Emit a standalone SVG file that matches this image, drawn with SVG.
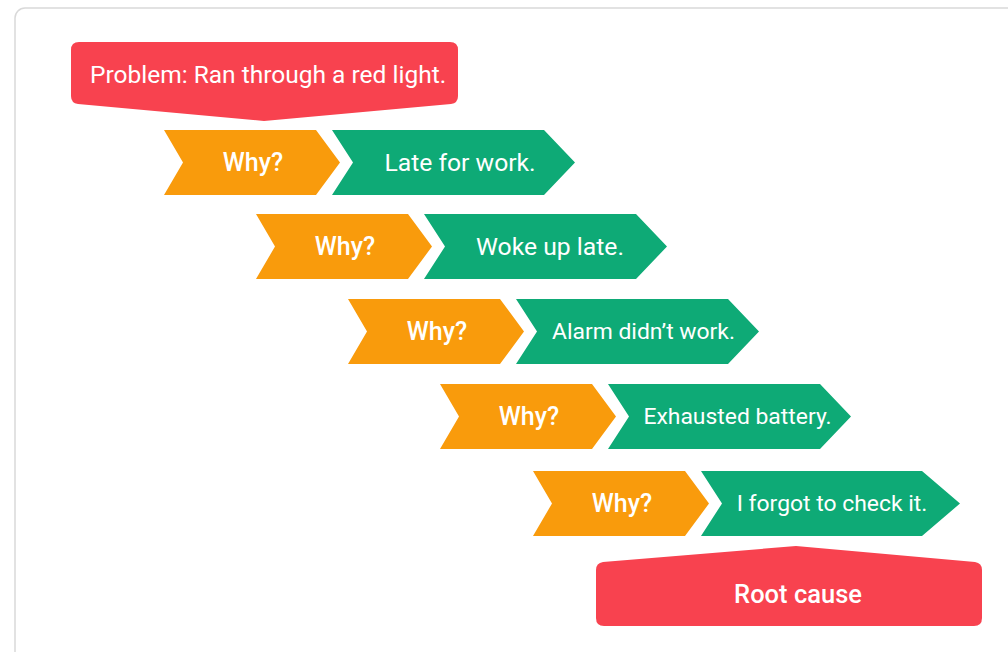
<svg xmlns="http://www.w3.org/2000/svg" width="1008" height="652" viewBox="0 0 1008 652">
<style>
.red{fill:#f8424f}
.org{fill:#f99b0c}
.grn{fill:#0eaa76}
text{font-family:Roboto,"Liberation Sans",sans-serif;fill:#ffffff}
.why{font-size:25px;font-weight:500;text-anchor:middle}
.ans{font-size:24.7px;font-weight:400;text-anchor:middle}
.ans2{font-size:22.9px;font-weight:400;text-anchor:middle}
</style>
<rect x="0" y="0" width="1008" height="652" fill="#ffffff"/>
<rect x="15" y="8" width="1020" height="680" rx="10" fill="#ffffff" stroke="#d9d9d9" stroke-width="1.5"/>
<g id="problem">
<path class="red" d="M79,42 H450 Q458,42 458,50 V96 Q458,103 451,104 L264,121 L78,104 Q71,103 71,96 V50 Q71,42 79,42 Z"/>
<text x="90" y="83" style="font-size:24.5px">Problem: Ran through a red light.</text>
</g>
<g id="row1">
<path class="org" d="M164,130 H316 L340,162.5 L316,195 H164 L183,162.5 Z"/>
<text class="why" x="253" y="171">Why?</text>
<path class="grn" d="M332,130 H544 L575,162.5 L544,195 H332 L353,162.5 Z"/>
<text class="ans" x="460" y="171">Late for work.</text>
</g>
<g id="row2">
<path class="org" d="M256,214 H408 L432,246.5 L408,279 H256 L275,246.5 Z"/>
<text class="why" x="345" y="255">Why?</text>
<path class="grn" d="M424,214 H636 L667,246.5 L636,279 H424 L445,246.5 Z"/>
<text class="ans" x="550" y="255">Woke up late.</text>
</g>
<g id="row3">
<path class="org" d="M348,299 H500 L524,331.5 L500,364 H348 L367,331.5 Z"/>
<text class="why" x="437" y="340">Why?</text>
<path class="grn" d="M516,299 H728 L759,331.5 L728,364 H516 L537,331.5 Z"/>
<text class="ans2" x="643.5" y="339">Alarm didn’t work.</text>
</g>
<g id="row4">
<path class="org" d="M440,384 H592 L616,416.5 L592,449 H440 L459,416.5 Z"/>
<text class="why" x="529" y="425">Why?</text>
<path class="grn" d="M608,384 H820 L851,416.5 L820,449 H608 L629,416.5 Z"/>
<text class="ans2" x="737.5" y="424">Exhausted battery.</text>
</g>
<g id="row5">
<path class="org" d="M533,471 H685 L709,503.5 L685,536 H533 L552,503.5 Z"/>
<text class="why" x="622" y="512">Why?</text>
<path class="grn" d="M701,471 H922 L960,503.5 L922,536 H701 L722,503.5 Z"/>
<text class="ans2" x="832" y="511">I forgot to check it.</text>
</g>
<g id="rootcause">
<path class="red" d="M603,562 L796,546 L975,562 Q982,563 982,570 V618 Q982,626 974,626 H604 Q596,626 596,618 V570 Q596,563 603,562 Z"/>
<text x="798" y="603" style="font-size:25.5px;font-weight:500;text-anchor:middle">Root cause</text>
</g>
<g id="connectors"></g>
</svg>
